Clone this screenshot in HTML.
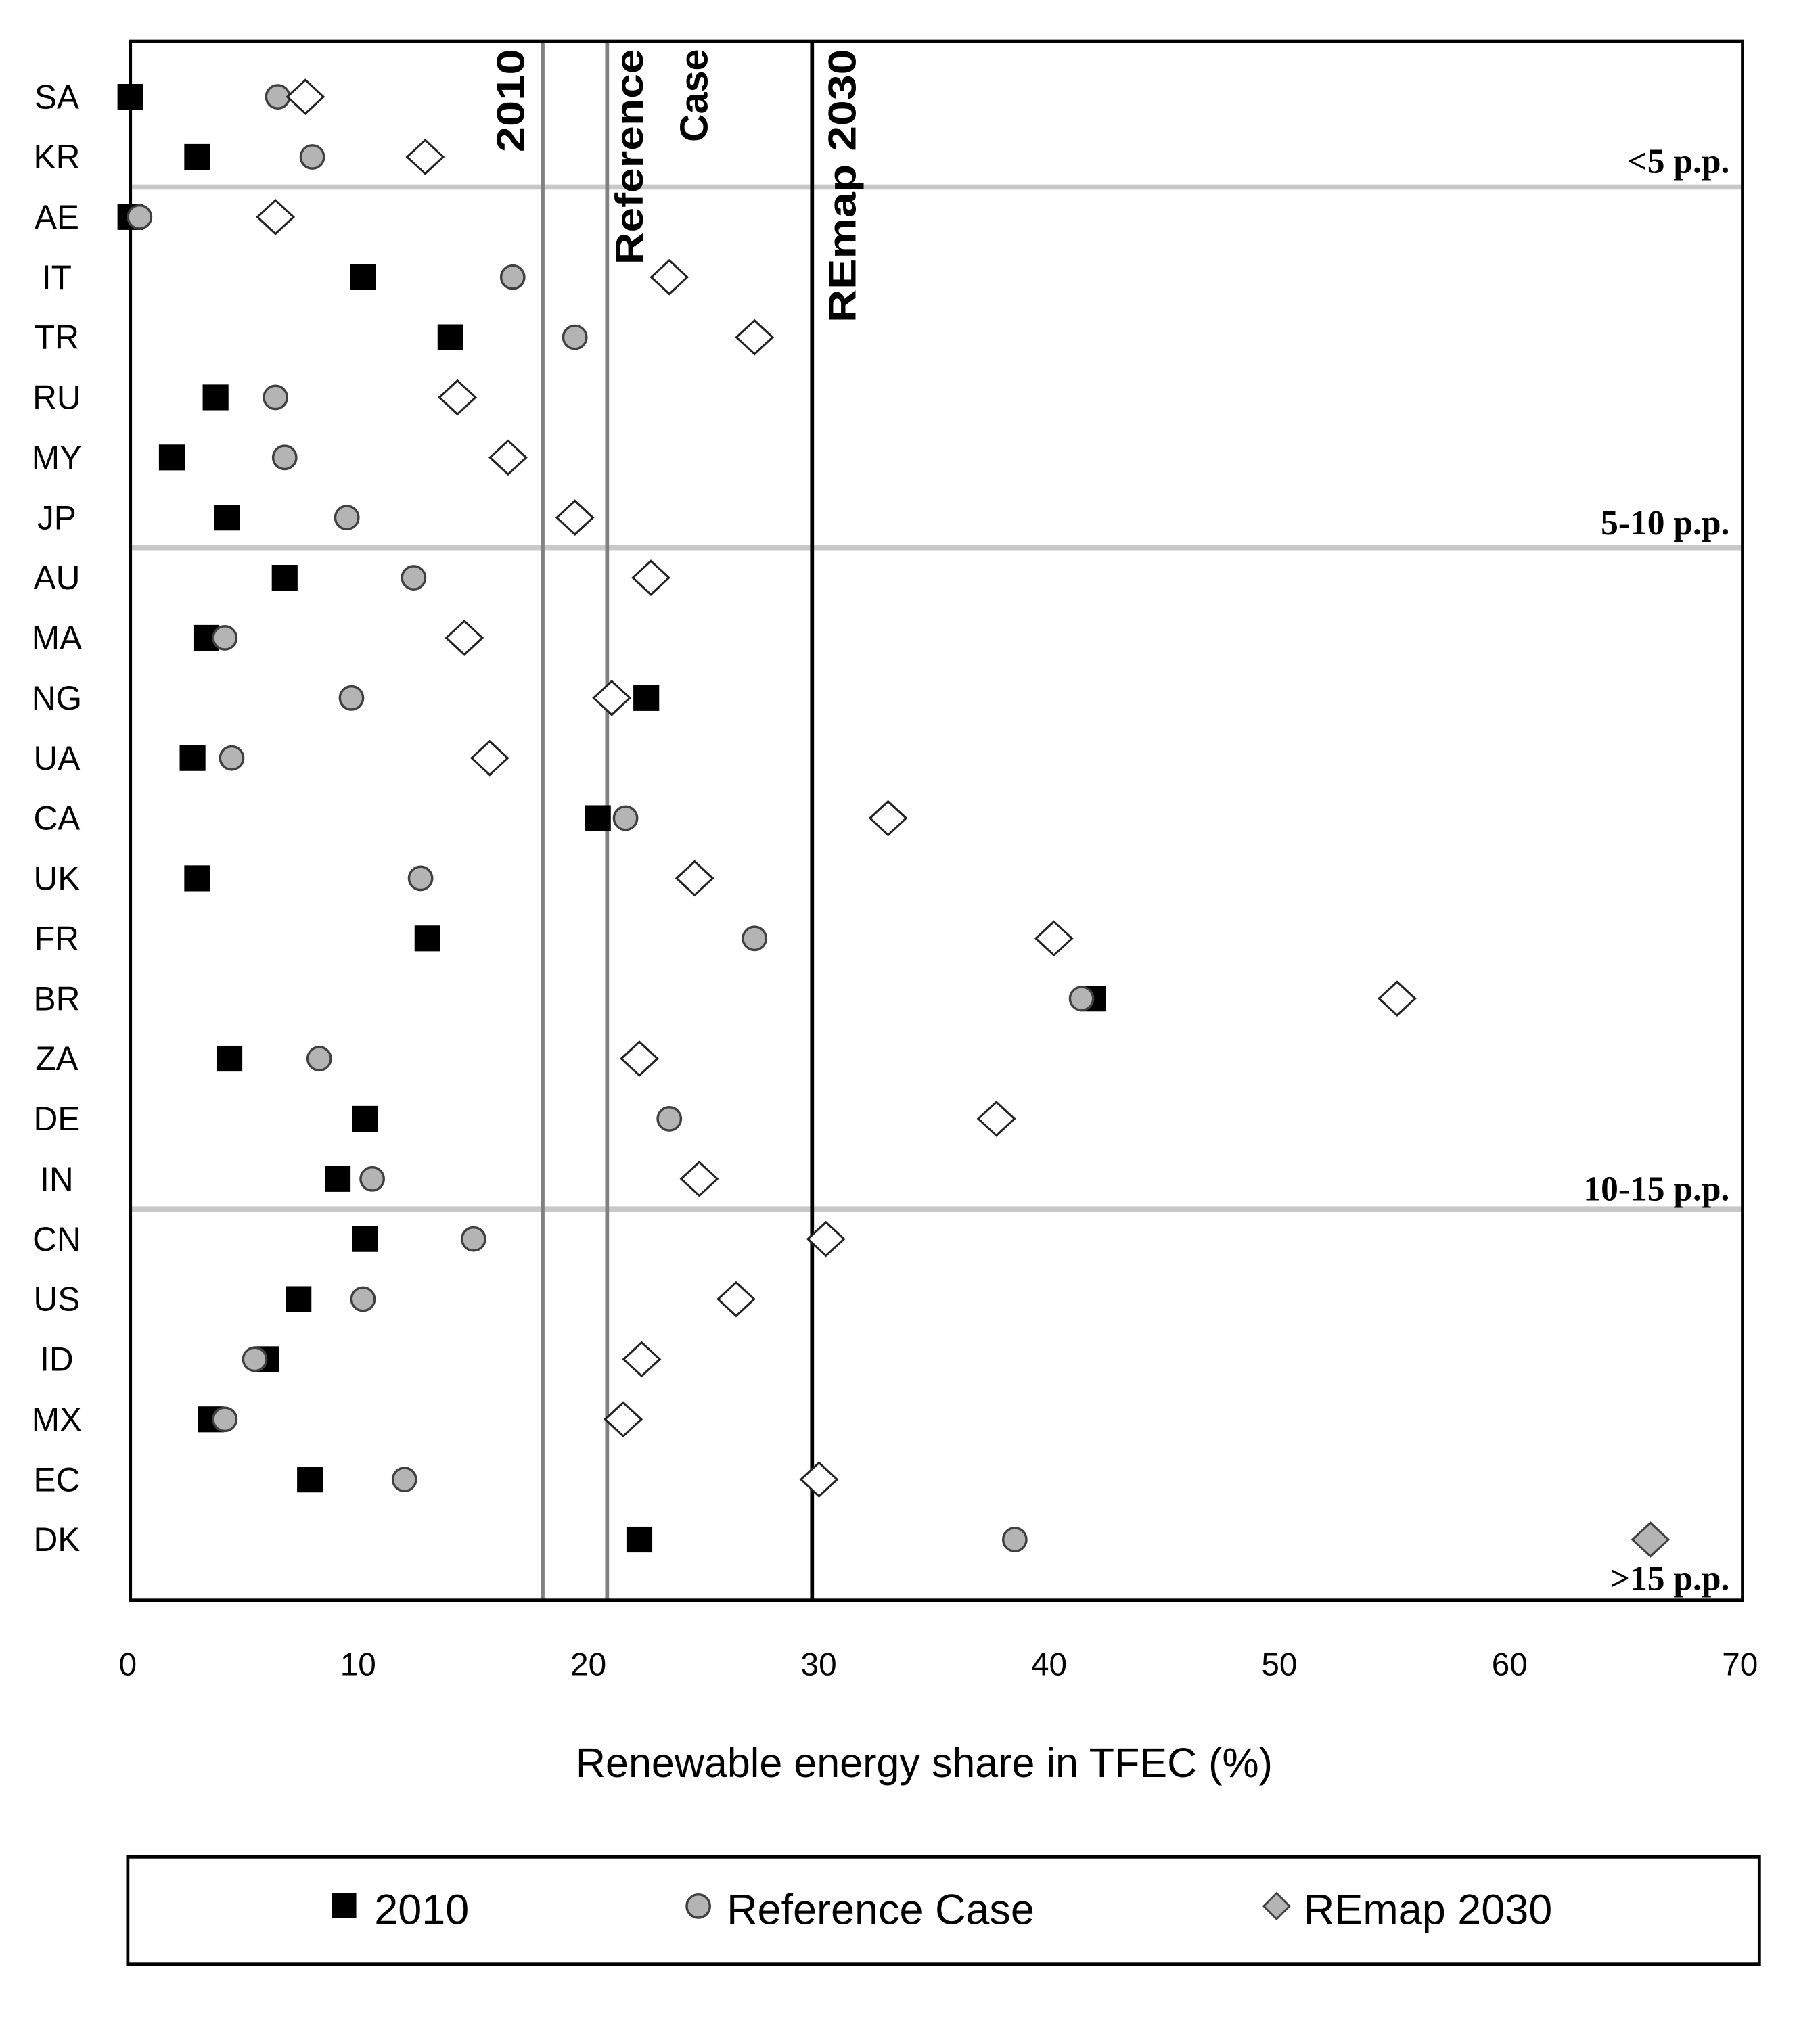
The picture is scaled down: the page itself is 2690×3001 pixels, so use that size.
<!DOCTYPE html>
<html><head><meta charset="utf-8"><style>
html,body{margin:0;padding:0;background:#fff;}
svg{display:block;}
</style></head><body>
<svg id="chart" width="2690" height="3001" viewBox="0 0 1410 1573" preserveAspectRatio="none" xmlns="http://www.w3.org/2000/svg">
<g id="grid"></g>
<g id="marks"></g>
<g id="labels"></g>
</svg>
<script>
const countries=["SA","KR","AE","IT","TR","RU","MY","JP","AU","MA","NG","UA","CA","UK","FR","BR","ZA","DE","IN","CN","US","ID","MX","EC","DK"];
const v2010=[0,2.9,-0.3,10.1,13.9,3.7,1.8,4.2,6.7,3.3,22.4,2.7,20.3,2.9,12.9,41.8,4.3,10.2,9.0,10.2,7.3,5.9,3.5,7.8,22.1];
const vRef=[6.4,7.9,0.4,16.6,19.3,6.3,6.7,9.4,12.3,4.1,9.6,4.4,21.5,12.6,27.1,41.3,8.2,23.4,10.5,14.9,10.1,5.4,4.1,11.9,38.4];
const vRemap=[7.6,12.8,6.3,23.4,27.1,14.2,16.4,19.3,22.6,14.5,20.9,15.6,32.9,24.5,40.1,55.0,22.1,37.6,24.7,30.2,26.3,22.2,21.4,29.9,66.0];
const xTicks=[0,10,20,30,40,50,60,70];
const refLines=[17.9,20.7,29.6];
const groupLabels=["<5 p.p.","5-10 p.p.","10-15 p.p.",">15 p.p."];
const groupEnds=[1,7,18,24];

const NS="http://www.w3.org/2000/svg";
const L=101,R=1350,T=32,B=1240,XMAX=70;
const x=v=>L+(v/XMAX)*(R-L);
const rowY=i=>75+i*(1193-75)/(countries.length-1);
function mk(tag,attrs,parent,text){const e=document.createElementNS(NS,tag);for(const k in attrs)e.setAttribute(k,attrs[k]);if(text!==undefined)e.textContent=text;parent.appendChild(e);return e;}
const grid=document.getElementById('grid'),marks=document.getElementById('marks'),labels=document.getElementById('labels');
const font='"Liberation Sans", sans-serif';

// separators
for(let g=0;g<groupEnds.length-1;g++){
  const yy=(rowY(groupEnds[g])+rowY(groupEnds[g]+1))/2;
  const ln=mk('line',{x1:L,x2:R,y1:yy,y2:yy,stroke:'#c8c8c8','stroke-width':4},grid);
  
  
}
// reference lines
refLines.forEach((v,i)=>{
  const ln=mk('line',{x1:x(v),x2:x(v),y1:T,y2:B,stroke:i<2?'#808080':'#000','stroke-width':3},grid);
  
  
});
// frame
const fr=mk('rect',{x:L,y:T,width:R-L,height:B-T,fill:'none',stroke:'#000','stroke-width':2.5},grid);



// rotated line labels
const rot=[["2010",398,118],["Reference",490,205],["Case",540,110],["REmap 2030",655,250]];
rot.forEach(r=>{
  const t=mk('text',{x:r[1],y:r[2],transform:`rotate(-90 ${r[1]} ${r[2]})`,'font-family':font,'font-weight':'bold','font-size':30,fill:'#000','dominant-baseline':'middle','textLength':(r[2]-38),'lengthAdjust':'spacingAndGlyphs'},labels,r[0]);
  
  
});

// group labels
groupLabels.forEach((s,g)=>{
  const yy=[125,405,921,1223][g];
  const t=mk('text',{x:1340,y:yy+9,'text-anchor':'end','font-family':'"Liberation Serif", serif','font-weight':'bold','font-size':27,fill:'#000'},labels,s);
  
  
});

countries.forEach((c,i)=>{
  const yy=rowY(i);
  const t=mk('text',{x:44,y:yy+9,'text-anchor':'middle','font-family':font,'font-size':26,fill:'#000'},labels,c);
  
  
  const sq=mk('rect',{x:x(Math.max(v2010[i],0))-10,y:yy-10,width:20,height:20,fill:'#000'},marks);
  
  
  const ci=mk('circle',{cx:x(vRef[i]),cy:yy,r:9,fill:'#b4b4b4',stroke:'#404040','stroke-width':1.8},marks);
  
  
  const dx=x(vRemap[i]);
  const last=i===countries.length-1;
  const di=mk('polygon',{points:`${dx},${yy-13} ${dx+14},${yy} ${dx},${yy+13} ${dx-14},${yy}`,fill:last?'#b4b4b4':'#fff',stroke:last?'#404040':'#222','stroke-width':1.6},marks);
  
  
});

xTicks.forEach(v=>{
  const t=mk('text',{x:x(v)-2,y:1298,'text-anchor':'middle','font-family':font,'font-size':25,fill:'#000'},labels,String(v));
  
  
});
const xt=mk('text',{x:716,y:1377,'text-anchor':'middle','font-family':font,'font-size':32,fill:'#000'},labels,'Renewable  energy share in TFEC (%)');



// legend
const lg=mk('g',{},labels);


mk('rect',{x:99,y:1439,width:1264,height:83,fill:'#fff',stroke:'#000','stroke-width':2.5},lg);
const e1=mk('rect',{x:257,y:1467,width:19,height:19,fill:'#000'},lg);


mk('text',{x:290,y:1491,'font-family':font,'font-size':33,fill:'#000'},lg,'2010');
const e2=mk('circle',{cx:541,cy:1477,r:9,fill:'#b4b4b4',stroke:'#404040','stroke-width':1.8},lg);


mk('text',{x:563,y:1491,'font-family':font,'font-size':33,fill:'#000'},lg,'Reference Case');
const e3=mk('polygon',{points:'989,1467 999,1477 989,1487 979,1477',fill:'#b4b4b4',stroke:'#404040','stroke-width':1.5},lg);


mk('text',{x:1010,y:1491,'font-family':font,'font-size':33,fill:'#000'},lg,'REmap 2030');
</script>
</body></html>
